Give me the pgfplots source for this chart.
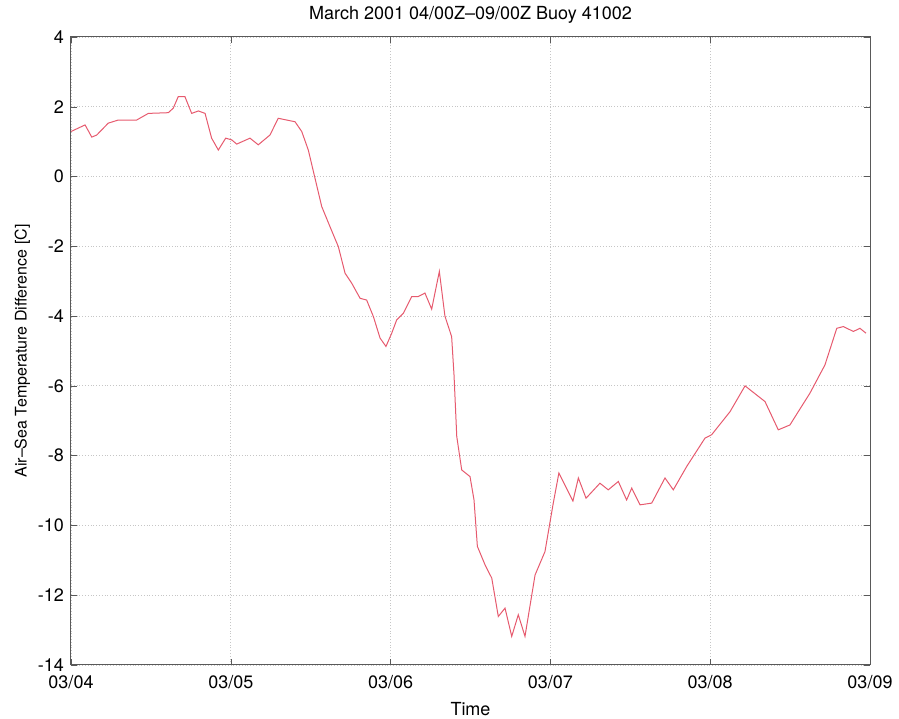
\documentclass[border=0pt]{standalone}
\usepackage{pgfplots}
\pgfplotsset{compat=1.18}
\usepackage{fontspec}
\setmainfont{TeX Gyre Heros}
\begin{document}
\begin{tikzpicture}
\begin{axis}[
    width=399.5pt, height=314pt,
    scale only axis,
    xmin=0, xmax=5,
    ymin=-14, ymax=4,
    xtick={0,1,2,3,4,5},
    xticklabels={03/04,03/05,03/06,03/07,03/08,03/09},
    ytick={-14,-12,-10,-8,-6,-4,-2,0,2,4},
    tick align=inside,
    tick pos=both,
    major tick length=3pt,
    grid=major,
    grid style={densely dotted, gray!45, line width=0.4pt},
    axis line style={gray!70!black, line width=0.5pt},
    tick style={gray!70!black},
    /pgf/number format/assume math mode=true,
    ticklabel style={font=\fontsize{9}{10}\selectfont},
    xticklabel style={yshift=-1.5pt},
    label style={font=\fontsize{8}{9}\selectfont},
    xlabel style={font=\fontsize{9}{10}\selectfont, yshift=0pt},
    ylabel style={yshift=-3pt},
    title style={font=\fontsize{9}{10}\selectfont, yshift=-3pt},
    title={March 2001 04/00Z–09/00Z Buoy 41002},
    xlabel={Time},
    ylabel={Air–Sea Temperature Difference [C]},
]
\addplot[color={rgb,255:red,230;green,90;blue,110}, line width=0.5pt] coordinates {
(0,1.29)(0.088,1.48)(0.130,1.13)(0.161,1.19)(0.233,1.53)(0.296,1.62)
(0.411,1.62)(0.484,1.81)(0.609,1.83)(0.640,1.96)(0.671,2.29)(0.713,2.29)
(0.755,1.81)(0.797,1.88)(0.839,1.81)(0.880,1.10)(0.922,0.76)(0.968,1.10)
(1.006,1.05)(1.037,0.93)(1.120,1.10)(1.172,0.91)(1.245,1.19)(1.297,1.67)
(1.402,1.57)(1.444,1.29)(1.485,0.76)(1.527,-0.05)(1.569,-0.86)(1.621,-1.44)
(1.673,-2.01)(1.715,-2.77)(1.757,-3.06)(1.809,-3.49)(1.850,-3.54)(1.892,-4.01)
(1.934,-4.63)(1.971,-4.87)(2.007,-4.49)(2.038,-4.11)(2.080,-3.92)(2.132,-3.44)
(2.173,-3.44)(2.215,-3.34)(2.257,-3.80)(2.305,-2.72)(2.340,-4.00)(2.382,-4.59)
(2.397,-5.70)(2.414,-7.45)(2.445,-8.41)(2.497,-8.60)(2.522,-9.27)(2.543,-10.60)
(2.591,-11.13)(2.633,-11.51)(2.674,-12.61)(2.716,-12.37)(2.758,-13.18)(2.799,-12.56)
(2.841,-13.18)(2.904,-11.42)(2.966,-10.75)(3.018,-9.36)(3.053,-8.50)(3.141,-9.30)
(3.175,-8.64)(3.223,-9.22)(3.310,-8.79)(3.362,-8.98)(3.425,-8.74)(3.477,-9.27)
(3.509,-8.93)(3.561,-9.41)(3.634,-9.36)(3.717,-8.64)(3.769,-8.98)(3.853,-8.31)
(3.967,-7.50)(4.009,-7.40)(4.124,-6.74)(4.218,-6.00)(4.343,-6.45)(4.426,-7.26)
(4.499,-7.12)(4.551,-6.74)(4.624,-6.21)(4.718,-5.40)(4.792,-4.35)(4.833,-4.30)
(4.896,-4.44)(4.937,-4.35)(4.975,-4.49)
};
\end{axis}
\pgfresetboundingbox
\useasboundingbox ([shift={(-35.5pt,-27pt)}]current axis.south west) rectangle ([shift={(14.5pt,18.5pt)}]current axis.north east);
\end{tikzpicture}
\end{document}
